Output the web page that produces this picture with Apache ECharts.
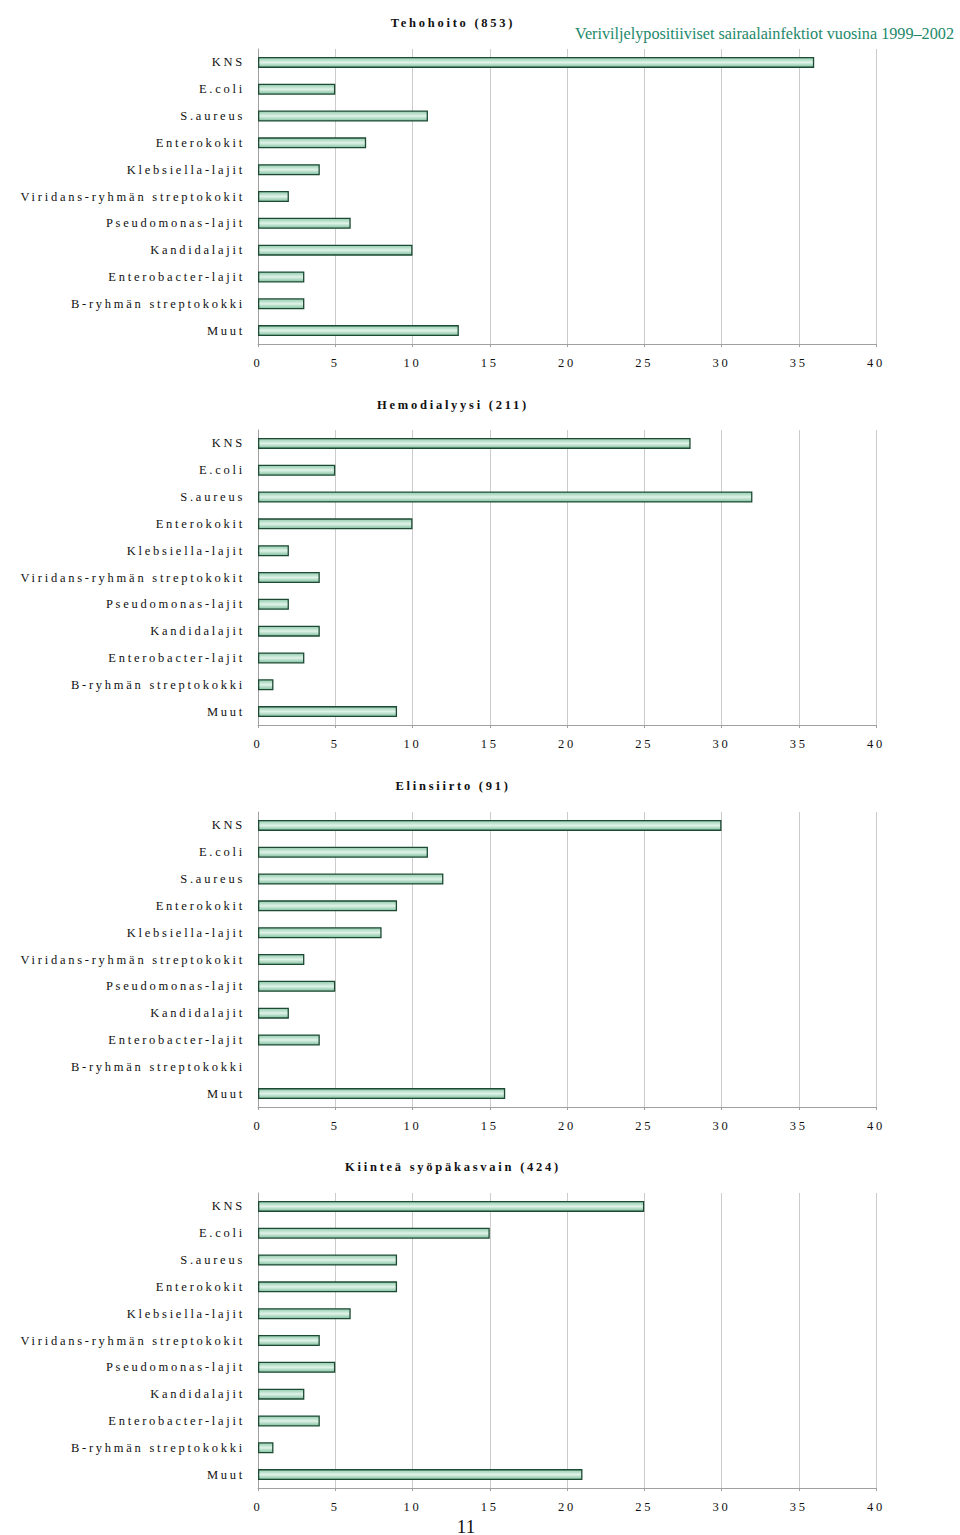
<!DOCTYPE html>
<html><head><meta charset="utf-8">
<script src="https://cdn.jsdelivr.net/npm/echarts@6/dist/echarts.min.js"></script>
<style>
html,body{margin:0;padding:0;background:#fff;}
#c{width:960px;height:1535px;}
svg text[style*="Liberation"]{letter-spacing:2.75px;}
</style></head>
<body><div id="c"></div>
<script>
const categories = ["KNS","E.coli","S.aureus","Enterokokit","Klebsiella-lajit","Viridans-ryhmän streptokokit","Pseudomonas-lajit","Kandidalajit","Enterobacter-lajit","B-ryhmän streptokokki","Muut"];
const chartTitles = ["Tehohoito (853)","Hemodialyysi (211)","Elinsiirto (91)","Kiinteä syöpäkasvain (424)"];
const tehohoito = [36,5,11,7,4,2,6,10,3,3,13];
const hemodialyysi = [28,5,32,10,2,4,2,4,3,1,9];
const elinsiirto = [30,11,12,9,8,3,5,2,4,0,16];
const kiintea = [25,15,9,9,6,4,5,3,4,1,21];
const xTicks = [0,5,10,15,20,25,30,35,40];
const headerText = "Veriviljelypositiiviset sairaalainfektiot vuosina 1999–2002";
const pageNumber = "11";

const seriesData = [tehohoito, hemodialyysi, elinsiirto, kiintea];
const FONT = "Liberation Serif";
const tops = [49, 430, 812, 1193];
const gridH = 295;
const titleY = [23, 405, 786, 1167];

const grids = [], xAxes = [], yAxes = [], series = [], graphics = [];
tops.forEach((t, i) => {
  grids.push({left: 258, width: 618, top: t, height: gridH});
  xAxes.push({
    type: 'value', gridIndex: i, min: xTicks[0], max: xTicks[xTicks.length-1], interval: xTicks[1]-xTicks[0],
    axisLine: {show: true, lineStyle: {color: '#a0a0a0', width: 1}},
    axisTick: {show: true, length: 3, lineStyle: {color: '#a0a0a0'}},
    splitLine: {show: true, lineStyle: {color: '#cccccc', width: 1}},
    axisLabel: {color: '#111', fontFamily: FONT, fontSize: 12.5, margin: 12}
  });
  yAxes.push({
    type: 'category', gridIndex: i, inverse: true, data: categories,
    axisLine: {show: true, lineStyle: {color: '#a0a0a0', width: 1}},
    axisTick: {show: false},
    splitLine: {show: false},
    axisLabel: {color: '#111', fontFamily: FONT, fontSize: 12.5, margin: 13}
  });
  series.push({
    type: 'bar', xAxisIndex: i, yAxisIndex: i,
    data: seriesData[i].map(v => v === 0 ? '-' : v), barWidth: 11,
    itemStyle: {
      borderColor: '#1d4a33', borderWidth: 1.3,
      color: {type: 'linear', x: 0, y: 0, x2: 0, y2: 1, colorStops: [
        {offset: 0, color: '#8fcaab'}, {offset: 0.5, color: '#e0f3e9'}, {offset: 1, color: '#80c09e'}
      ]}
    }
  });
  graphics.push({
    type: 'text', x: 453, y: titleY[i],
    style: {text: chartTitles[i], textAlign: 'center', textVerticalAlign: 'middle',
      fontFamily: FONT, fontSize: 12.5, fontWeight: 'bold', fill: '#111'}
  });
});
graphics.push({
  type: 'text', x: 954, y: 34,
  style: {text: headerText, textAlign: 'right', textVerticalAlign: 'middle',
    fontFamily: 'Times New Roman, serif', fontSize: 16.2, fill: '#23896a'}
});
graphics.push({
  type: 'text', x: 466, y: 1526,
  style: {text: pageNumber, textAlign: 'center', textVerticalAlign: 'middle',
    fontFamily: 'Times New Roman, serif', fontSize: 19, fill: '#111'}
});

const chart = echarts.init(document.getElementById('c'), null, {renderer: 'svg'});
chart.setOption({
  animation: false,
  backgroundColor: '#fff',
  grid: grids, xAxis: xAxes, yAxis: yAxes, series: series,
  graphic: graphics
});
</script></body></html>
